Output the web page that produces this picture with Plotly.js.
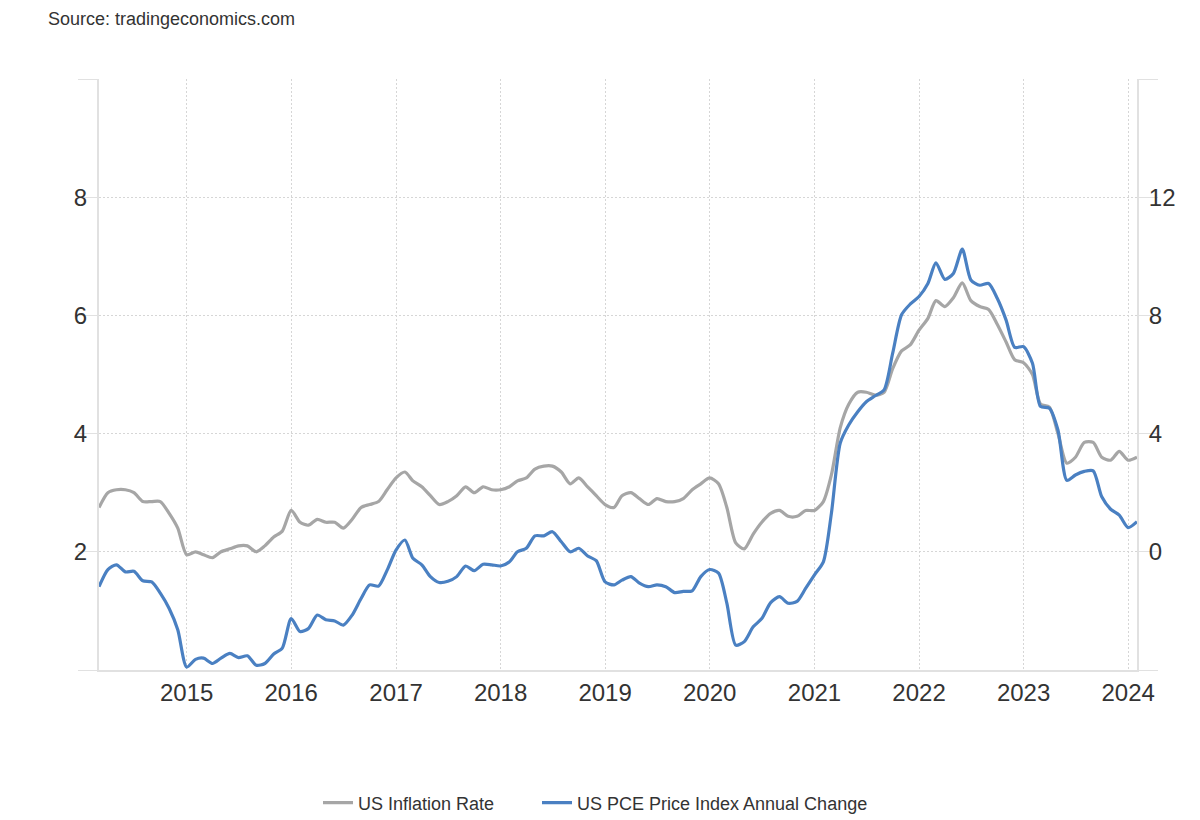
<!DOCTYPE html>
<html>
<head>
<meta charset="utf-8">
<script src="https://cdn.plot.ly/plotly-3.0.1.min.js"></script>
<style>
  html, body { margin: 0; padding: 0; background: #fff; }
  #chart { width: 1200px; height: 820px; }
</style>
</head>
<body>
<div id="chart"></div>
<script>
// Monthly observations, March 2014 through February 2024
const startMonth = [2014, 3];
const monthCount = 120;

// US Inflation Rate (CPI, % y/y) - right axis
const cpiValues = [
  1.5, 2.0, 2.1, 2.1, 2.0, 1.7, 1.7, 1.7, 1.3, 0.8,
  -0.1, 0.0, -0.1, -0.2, 0.0, 0.1, 0.2, 0.2, 0.0, 0.2, 0.5, 0.7,
  1.4, 1.0, 0.9, 1.1, 1.0, 1.0, 0.8, 1.1, 1.5, 1.6, 1.7, 2.1,
  2.5, 2.7, 2.4, 2.2, 1.9, 1.6, 1.7, 1.9, 2.2, 2.0, 2.2, 2.1,
  2.1, 2.2, 2.4, 2.5, 2.8, 2.9, 2.9, 2.7, 2.3, 2.5, 2.2, 1.9,
  1.6, 1.5, 1.9, 2.0, 1.8, 1.6, 1.8, 1.7, 1.7, 1.8, 2.1, 2.3,
  2.5, 2.3, 1.5, 0.3, 0.1, 0.6, 1.0, 1.3, 1.4, 1.2, 1.2, 1.4,
  1.4, 1.7, 2.6, 4.2, 5.0, 5.4, 5.4, 5.3, 5.4, 6.2, 6.8, 7.0,
  7.5, 7.9, 8.5, 8.3, 8.6, 9.1, 8.5, 8.3, 8.2, 7.7, 7.1, 6.5,
  6.4, 6.0, 5.0, 4.9, 4.0, 3.0, 3.2, 3.7, 3.7, 3.2, 3.1, 3.4,
  3.1, 3.2
];

// US PCE Price Index Annual Change (% y/y) - left axis
const pceValues = [
  1.41, 1.70, 1.78, 1.66, 1.67, 1.51, 1.49, 1.30, 1.04, 0.68,
  0.05, 0.18, 0.20, 0.11, 0.20, 0.28, 0.21, 0.24, 0.08, 0.11, 0.27, 0.37,
  0.87, 0.65, 0.70, 0.93, 0.85, 0.83, 0.76, 0.93, 1.21, 1.44, 1.42, 1.69,
  2.03, 2.20, 1.89, 1.78, 1.58, 1.48, 1.50, 1.58, 1.76, 1.68, 1.79, 1.78,
  1.76, 1.83, 2.00, 2.06, 2.27, 2.27, 2.34, 2.17, 2.00, 2.06, 1.93, 1.85,
  1.49, 1.44, 1.52, 1.58, 1.47, 1.41, 1.44, 1.41, 1.31, 1.33, 1.34, 1.58,
  1.70, 1.64, 1.13, 0.42, 0.48, 0.73, 0.87, 1.14, 1.24, 1.13, 1.16, 1.38,
  1.61, 1.83, 2.65, 3.84, 4.15, 4.37, 4.54, 4.64, 4.74, 5.36, 6.01, 6.19,
  6.32, 6.54, 6.89, 6.61, 6.71, 7.12, 6.60, 6.51, 6.54, 6.29, 5.92, 5.46,
  5.47, 5.19, 4.46, 4.43, 4.06, 3.21, 3.30, 3.36, 3.37, 2.93, 2.72, 2.62,
  2.41, 2.51
];

const leftTickVals = [0, 2, 4, 6, 8, 10];
const leftTickText = ['', '2', '4', '6', '8', ''];
const rightTickVals = [-4, 0, 4, 8, 12, 16];
const rightTickText = ['', '0', '4', '8', '12', ''];

const seriesNames = ['US Inflation Rate', 'US PCE Price Index Annual Change'];
const sourceText = 'Source: tradingeconomics.com';

function monthDates(start, n) {
  const out = [];
  let y = start[0], m = start[1];
  for (let i = 0; i < n; i++) {
    out.push(y + '-' + String(m).padStart(2, '0') + '-01');
    m++;
    if (m > 12) { m = 1; y++; }
  }
  return out;
}
const dates = monthDates(startMonth, monthCount);

const FONT = '"Liberation Sans", Arial, Helvetica, sans-serif';
const gridCol = '#d6d6d6';
const lineCol = '#e1e1e1';

const traces = [
  {
    x: dates, y: cpiValues, name: seriesNames[0], type: 'scatter', mode: 'lines',
    yaxis: 'y', legendwidth: 174,
    line: { color: '#a6a6a6', width: 3.2, shape: 'spline', smoothing: 0.7 },
    hoverinfo: 'x+y'
  },
  {
    x: dates, y: pceValues, name: seriesNames[1], type: 'scatter', mode: 'lines',
    yaxis: 'y2',
    line: { color: '#4a80c2', width: 3.2, shape: 'spline', smoothing: 0.7 },
    hoverinfo: 'x+y'
  }
];

const layout = {
  width: 1200, height: 820,
  paper_bgcolor: '#ffffff', plot_bgcolor: '#ffffff',
  margin: { l: 99, r: 63, t: 79, b: 150, pad: 0, autoexpand: false },
  font: { family: FONT, color: '#333333' },
  showlegend: true,
  legend: {
    orientation: 'h', x: (318 - 99) / 1038, xanchor: 'left',
    y: (670 - 803) / 591, yanchor: 'middle',
    font: { family: FONT, size: 18, color: '#333333' }, bgcolor: 'rgba(0,0,0,0)'
  },
  xaxis: {
    type: 'date',
    range: ['2014-03-01', '2024-02-01'],
    tick0: '2015-01-01', dtick: 'M12', tickformat: '%Y',
    showgrid: true, gridcolor: gridCol, griddash: '2px,2px', gridwidth: 1,
    showline: true, linecolor: lineCol, linewidth: 2,
    ticks: '', zeroline: false,
    tickfont: { family: FONT, size: 24, color: '#333333' },
    ticklabelstandoff: 0
  },
  yaxis: {
    side: 'right',
    range: [-4, 16],
    tickmode: 'array', tickvals: rightTickVals, ticktext: rightTickText,
    showgrid: true, gridcolor: gridCol, griddash: '2px,2px', gridwidth: 1,
    showline: true, linecolor: lineCol, linewidth: 2,
    ticks: 'outside', ticklen: 19, tickcolor: lineCol, tickwidth: 1,
    zeroline: false,
    tickfont: { family: FONT, size: 24, color: '#333333' },
    ticklabelstandoff: -14
  },
  yaxis2: {
    side: 'left', overlaying: 'y',
    range: [0, 10],
    tickmode: 'array', tickvals: leftTickVals, ticktext: leftTickText,
    showgrid: false,
    showline: true, linecolor: lineCol, linewidth: 2,
    ticks: 'outside', ticklen: 19, tickcolor: lineCol, tickwidth: 1,
    zeroline: false,
    tickfont: { family: FONT, size: 24, color: '#333333' },
    ticklabelstandoff: -14
  },
  annotations: [
    {
      text: sourceText, xref: 'paper', yref: 'paper',
      x: (46 - 99) / 1038, y: (670 - 19) / 591,
      xanchor: 'left', yanchor: 'middle', showarrow: false,
      font: { family: FONT, size: 18, color: '#333333' }
    }
  ]
};

Plotly.newPlot('chart', traces, layout, { displayModeBar: false, staticPlot: true });
</script>
</body>
</html>
